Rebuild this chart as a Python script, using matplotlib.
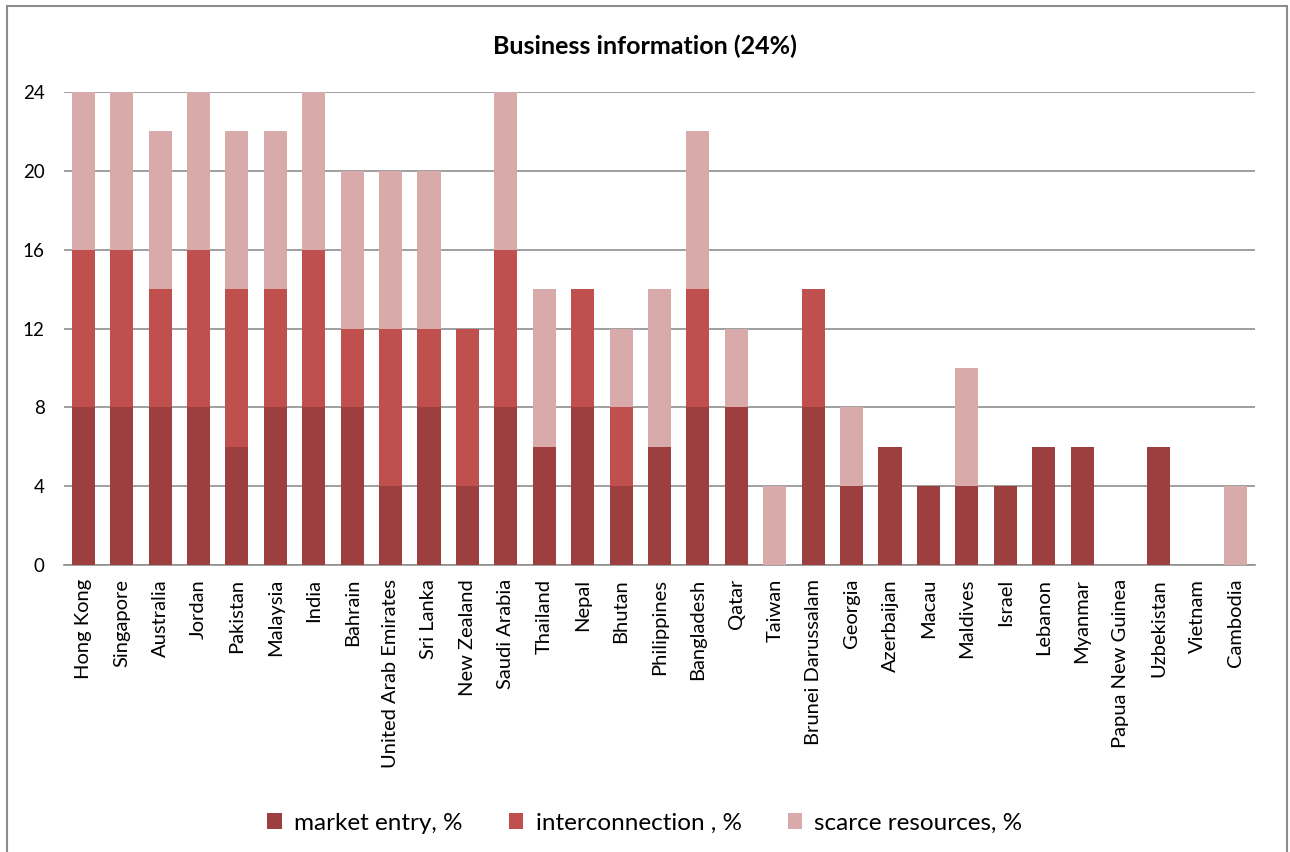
import matplotlib
matplotlib.use("Agg")
import matplotlib.pyplot as plt
from matplotlib.patches import Rectangle
import numpy as np

countries = [
    "Hong Kong", "Singapore", "Australia", "Jordan", "Pakistan", "Malaysia",
    "India", "Bahrain", "United Arab Emirates", "Sri Lanka", "New Zealand",
    "Saudi Arabia", "Thailand", "Nepal", "Bhutan", "Philippines", "Bangladesh",
    "Qatar", "Taiwan", "Brunei Darussalam", "Georgia", "Azerbaijan", "Macau",
    "Maldives", "Israel", "Lebanon", "Myanmar", "Papua New Guinea",
    "Uzbekistan", "Vietnam", "Cambodia",
]
market_entry = [8, 8, 8, 8, 6, 8, 8, 8, 4, 8, 4, 8, 6, 8, 4, 6, 8, 8, 0, 8,
                4, 6, 4, 4, 4, 6, 6, 0, 6, 0, 0]
interconnection = [8, 8, 6, 8, 8, 6, 8, 4, 8, 4, 8, 8, 0, 6, 4, 0, 6, 0, 0, 6,
                   0, 0, 0, 0, 0, 0, 0, 0, 0, 0, 0]
scarce_resources = [8, 8, 8, 8, 8, 8, 8, 8, 8, 8, 0, 8, 8, 0, 4, 8, 8, 4, 4, 0,
                    4, 0, 0, 6, 0, 0, 0, 0, 0, 0, 4]
series_names = ["market entry, %", "interconnection , %", "scarce resources, %"]
y_ticks = [0, 4, 8, 12, 16, 20, 24]
title = "Business information (24%)"

colors = ["#9C3F3E", "#C0504D", "#D9AAAA"]

plt.rcParams["font.family"] = ["Lato", "DejaVu Sans"]

fig = plt.figure(figsize=(12.9, 8.52), dpi=100)
W, H = 1290, 852

# chart frame
fig.patches.append(Rectangle((7 / W, -0.05), 1280 / W, (852 - 6) / H + 0.05,
                             transform=fig.transFigure, fill=False,
                             edgecolor="#8c8c8c", linewidth=1.5))

ax = fig.add_axes([64 / W, 1 - 565 / H, (1255 - 64) / W, (565 - 92) / H])

x = np.arange(len(countries))
me = np.array(market_entry)
ic = np.array(interconnection)
sr = np.array(scarce_resources)
bw = 0.6
bars = [
    ax.bar(x, me, bw, color=colors[0], zorder=3),
    ax.bar(x, ic, bw, bottom=me, color=colors[1], zorder=3),
    ax.bar(x, sr, bw, bottom=me + ic, color=colors[2], zorder=3),
]

ax.set_xlim(-0.5, len(countries) - 0.5)
ax.set_ylim(0, 24)
ax.set_yticks(y_ticks)
ax.set_yticklabels([str(t) for t in y_ticks], fontsize=13.5)
ax.yaxis.grid(True, color="#8f8f8f", linewidth=1.2, zorder=0)
ax.tick_params(axis="y", length=0, pad=14)
ax.tick_params(axis="x", length=0, pad=10)
ax.set_xticks(x)
ax.set_xticklabels(countries, rotation=90, fontsize=14.5)
for s in ["top", "right", "left"]:
    ax.spines[s].set_visible(False)
ax.spines["bottom"].set_color("#8f8f8f")
ax.spines["bottom"].set_linewidth(1.2)

fig.text(0.5, 1 - 46 / H, title, ha="center", va="center",
         fontsize=18, fontweight="bold")

fig.legend([b[0] for b in bars], series_names, loc="center",
           bbox_to_anchor=(0.5, 1 - 823 / H), ncol=3, frameon=False,
           fontsize=17.5, handlelength=0.6, handleheight=0.6,
           columnspacing=1.9, handletextpad=0.5)

fig.savefig("out.png", dpi=100)
